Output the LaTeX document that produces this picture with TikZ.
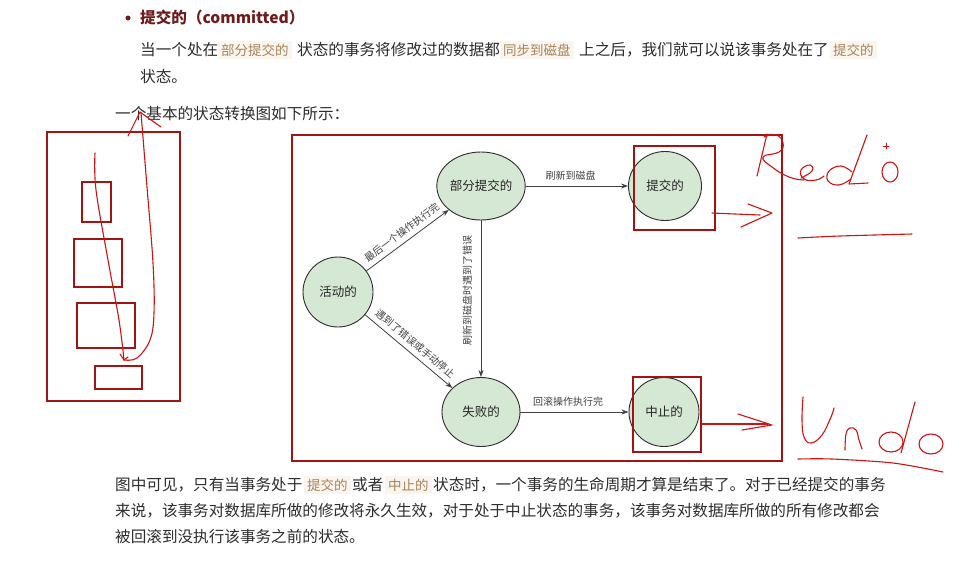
\documentclass[tikz,border=0pt]{standalone}
\usepackage{fontspec}
\setmainfont{Noto Sans CJK SC}
\usetikzlibrary{shapes.geometric,arrows.meta}
\definecolor{txtc}{RGB}{45,45,45}
\definecolor{titlec}{RGB}{110,28,28}
\definecolor{hlbg}{RGB}{250,246,239}
\definecolor{hlfg}{RGB}{168,132,88}
\definecolor{stfill}{RGB}{213,232,212}
\definecolor{stdraw}{RGB}{45,45,45}
\definecolor{framec}{RGB}{160,20,20}
\definecolor{penc}{RGB}{205,20,20}
\begin{document}
\begin{tikzpicture}[x=1pt,y=-1pt,
  txt/.style={inner sep=0pt, anchor=west, text=txtc, font=\fontsize{15.6}{18}\selectfont},
  hl/.style={anchor=west, fill=hlbg, text=hlfg, inner xsep=3pt, inner ysep=3pt, font=\fontsize{13.5}{16}\selectfont},
  state/.style={ellipse, draw=stdraw, line width=0.9pt, fill=stfill, inner sep=0pt, text=black!85, font=\fontsize{12.5}{14}\selectfont},
  edge/.style={draw=black!75, line width=0.8pt, -{Stealth[length=7pt,width=5pt]}},
  elabel/.style={inner sep=1pt, text=black!75, font=\fontsize{10}{12}\selectfont},
  pen/.style={draw=penc, line width=1.1pt, line cap=round, line join=round},
  redbox/.style={draw=framec, line width=1.1pt}
]
\useasboundingbox[fill=white] (0,0) rectangle (958,563);

% ---------- top text ----------
\fill[titlec] (128,18) circle (2.5pt);
\node[txt, text=titlec, font=\fontsize{15.6}{18}\selectfont\bfseries] (title) at (140,18) {提交的（committed）};

\node[txt] (p1a) at (140,50) {当一个处在};
\node[hl] (p1b) at (218,50) {部分提交的};
\node[txt] (p1c) at (297,50) {状态的事务将修改过的数据都};
\node[hl] (p1d) at (500,50) {同步到磁盘};
\node[txt] (p1e) at (579,50) {上之后，我们就可以说该事务处在了};
\node[hl] (p1f) at (830,50) {提交的};
\node[txt] (p2) at (140,77) {状态。};
\node[txt] (p3) at (115,114) {一个基本的状态转换图如下所示：};

% ---------- diagram ----------
\node[state, minimum width=70pt, minimum height=70pt] (active) at (338,292) {活动的};
\node[state, minimum width=78pt, minimum height=68pt] (partial) at (481,186) {部分提交的};
\node[state, minimum width=73pt, minimum height=69pt] (committed) at (665,186) {提交的};
\node[state, minimum width=78pt, minimum height=69pt] (failed) at (481,412) {失败的};
\node[state, minimum width=70pt, minimum height=69pt] (aborted) at (664,412) {中止的};

\draw[edge] (active) -- node[elabel, sloped, above=4pt] {最后一个操作执行完} (partial);
\draw[edge] (active) -- node[elabel, sloped, above=4pt] {遇到了错误或手动停止} (failed);
\draw[edge] (partial) -- node[elabel, pos=.44, above=4pt] {刷新到磁盘} (committed);
\draw[edge] (partial) -- node[elabel, pos=.45, rotate=90, anchor=south, outer sep=8pt] {刷新到磁盘时遇到了错误} (failed);
\draw[edge] (failed) -- node[elabel, pos=.44, above=4pt] {回滚操作执行完} (aborted);

\draw[redbox] (292,135) rectangle (782,461);
\draw[redbox] (634,146) rectangle (715,230);
\draw[redbox] (633,377) rectangle (701,452);

% red arrows
\draw[pen] plot[smooth] coordinates {(712,213) (735,214) (760,215)};
\draw[pen] (748,204) -- (772,213) -- (741,227);
\draw[pen] (702,424) -- (768,424);
\draw[pen] (738,414) -- (772,425) -- (742,430);

% Redo
\draw[pen] (767,134) -- (757,176);
\draw[pen] plot[smooth, tension=0.8] coordinates {(764,137) (776,135) (783,143) (779,152) (763,157) (772,167) (789,177) (804,180)};
\draw[pen] plot[smooth, tension=0.8] coordinates {(801,178) (812,171) (810,165) (801,170) (804,179) (816,180) (824,176)};
\draw[pen] plot[smooth, tension=0.7] coordinates {(852,172) (841,166) (829,171) (828,181) (839,185) (851,179)};
\draw[pen] (867,135) -- (849,184) -- (868,183);
\draw[pen] (890,172) ellipse (8pt and 10pt);
\draw[pen, line width=0.8pt] (886,143) -- (886,149) (883,146) -- (889,146);
\draw[pen] plot[smooth] coordinates {(798,238) (840,236) (912,234)};

% Undo
\draw[pen] plot[smooth, tension=0.7] coordinates {(803,397) (802,420) (804,437) (811,443) (822,435) (831,417) (834,408)};
\draw[pen] plot[smooth, tension=0.7] coordinates {(845,450) (846,434) (850,428) (856,430) (859,440) (862,449)};
\draw[pen] (891,442) ellipse (12pt and 10pt);
\draw[pen] (915,402) -- (901,453);
\draw[pen] (931,444) ellipse (12pt and 10pt);
\draw[pen] plot[smooth] coordinates {(798,459) (832,459) (893,463) (943,472)};

% ---------- left sketch ----------
\draw[redbox] (47,132) rectangle (180,401);
\draw[redbox] (82,182) rectangle (111,222);
\draw[redbox] (74,239) rectangle (122,287);
\draw[redbox] (77,303) rectangle (135,348);
\draw[redbox] (95,366) rectangle (142,389);
\draw[pen] plot[smooth, tension=0.6] coordinates {(95,153) (96,190) (108,260) (119,320) (124,360)};
\draw[pen] (120,354) -- (124,360) -- (128,357);
\draw[pen] plot[smooth, tension=0.6] coordinates {(124,360) (137,358) (150,340) (154,313) (153,263) (147,187) (141,113)};
\draw[pen] (128,136) -- (140,112) -- (161,127);

% ---------- bottom text ----------
\node[txt] (b1a) at (115,485) {图中可见，只有当事务处于};
\node[hl] (b1b) at (304,485) {提交的};
\node[txt] (b1c) at (352,485) {或者};
\node[hl] (b1d) at (385,485) {中止的};
\node[txt] (b1e) at (433,485) {状态时，一个事务的生命周期才算是结束了。对于已经提交的事务};
\node[txt] (b2) at (115,511) {来说，该事务对数据库所做的修改将永久生效，对于处于中止状态的事务，该事务对数据库所做的所有修改都会};
\node[txt] (b3) at (115,537) {被回滚到没执行该事务之前的状态。};
\end{tikzpicture}
\end{document}
